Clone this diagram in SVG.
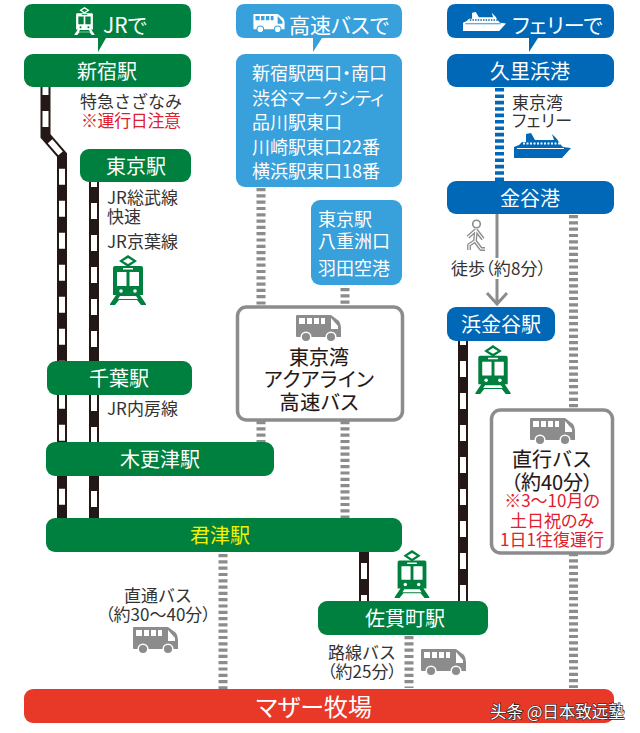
<svg xmlns="http://www.w3.org/2000/svg" width="640" height="733" viewBox="0 0 640 733">
<style>
text{font-family:"Noto Sans CJK JP","Noto Sans",sans-serif;font-feature-settings:"palt";dominant-baseline:central;fill:#333}
.w{fill:#fff}.c{text-anchor:middle}.s21{font-size:21px}.s20{font-size:20px}.s18{font-size:18px}.s17{font-size:17px}
.np{font-feature-settings:normal}
.dk{fill:#231815;stroke:#231815;stroke-width:.12px}
.r{fill:#e0202f}.y{fill:#f2f200}
.g{fill:#00803e}.lb{fill:#38a0db}.db{fill:#0068b7}.red{fill:#e83828}
.box{fill:#fff;stroke:#8c8c8c;stroke-width:3.5}
.rb{fill:none;stroke:#231815;stroke-width:10}
.rw{fill:none;stroke:#fff;stroke-width:6;stroke-dasharray:16 16}
.gd{fill:none;stroke:#8c8c8c;stroke-width:9;stroke-dasharray:3.2 3.1}
.bd{fill:none;stroke:#0068b7;stroke-width:9;stroke-dasharray:3.6 2.8}
.wk{fill:none;stroke:#8c8c8c;stroke-width:3}
</style>
<defs>
<symbol id="train" viewBox="0 0 36 50" overflow="visible">
<path fill-rule="evenodd" d="M18 0L27 6L18 12L9 6ZM18 3L13 6L18 9L23 6Z"/>
<path d="M5 11H31Q33 11 33 13V40H30L36 49V50H31L27 45H9L5 50H0V49L6 40H3V13Q3 11 5 11Z"/>
<path fill="currentColor" d="M7 17H16.500V31H7ZM19.500 17H29V31H19.500ZM13 13H23V14.500H13ZM10 41H26L28 44H8Z"/>
<circle fill="currentColor" cx="11" cy="36" r="1.800"/><circle fill="currentColor" cx="25" cy="36" r="1.800"/>
</symbol>
<symbol id="bus" viewBox="0 0 45 26" overflow="visible">
<path d="M1 0H35L43 6Q45 9 45 13V22H1Q0 22 0 21V1Q0 0 1 0Z"/>
<path fill="currentColor" d="M3 3H9V9H3ZM11 3H16V9H11ZM18 3H23V9H18ZM25 3H29V9H25ZM35 3L42 11V14H35Z"/>
<circle cx="10" cy="22" r="4.800" stroke="currentColor" stroke-width="1.500"/><circle cx="35" cy="22" r="4.800" stroke="currentColor" stroke-width="1.500"/>
</symbol>
<symbol id="ship" viewBox="0 0 57 25" overflow="visible">
<path d="M0 25V14L5 12L8 9H12V1L17 0L21 7H40L38 1L43 6L46 11L49 14L57 15L48 25Z"/>
<path fill="none" stroke="currentColor" stroke-width="2" stroke-dasharray="2 1.500" d="M9 10.500H47"/>
<path fill="none" stroke="currentColor" stroke-width="1" d="M3 15.500H50"/>
</symbol>
</defs>

<g id="connectors">
<path class="rb" d="M45.500 87V136L62 155V518"/>
<path class="rw" stroke-dashoffset="8" d="M45.500 87V136L62 155V518"/>
<path class="rb" d="M94 182V518"/><path class="rw" stroke-dashoffset="11" d="M94 182V518"/>
<path class="rb" d="M463 341V601"/><path class="rw" stroke-dashoffset="12" d="M463 341V601"/>
<path class="rb" d="M364 552V601"/><path class="rw" stroke-dashoffset="21" d="M364 552V601"/>
<path class="gd" d="M261 188V306M261 421V442"/>
<path class="gd" d="M345 288V306M345 421V518"/>
<path class="gd" d="M573.500 215V410M573.500 553V688"/>
<path class="gd" d="M223 554V689"/>
<path class="gd" d="M409 636V688"/>
<path class="bd" d="M499.500 88V181"/>
<path class="wk" d="M497 214V258M497 279V304M487 293L497 304L507 293"/>
</g>

<g id="jr-header"><path class="g" d="M33 4H182Q191 4 191 13V29Q191 38 182 38H106L98 52V38H33Q24 38 24 29V13Q24 4 33 4Z"/>
<use href="#train" x="74" y="7" width="21" height="28" style="fill:#fff;color:#00803e"/>
<text class="w s21" x="103" y="23.500">JRで</text></g>
<g id="shinjuku"><rect class="g" x="24" y="54" width="167" height="33" rx="9"/><text class="w s20 c" x="107" y="70.500">新宿駅</text></g>
<g id="sazanami-label"><text class="s17 np" x="80" y="100">特急さざなみ</text><text class="s17 r" x="81" y="119.500" textLength="100">※運行日注意</text></g>
<g id="tokyo"><rect class="g" x="80" y="149" width="111" height="33" rx="9"/><text class="w s20 c" x="136" y="165.500">東京駅</text></g>
<g id="sobu-label"><text class="s17" x="107" y="196.500">JR総武線</text><text class="s17" x="107" y="215.500">快速</text><text class="s17" x="107" y="240.500">JR京葉線</text>
<use href="#train" x="110" y="255" width="36" height="50" style="fill:#00803e;color:#fff"/></g>
<g id="chiba"><rect class="g" x="47" y="361" width="145" height="34" rx="9"/><text class="w s20 c" x="119" y="377">千葉駅</text></g>
<text class="s17" x="107" y="407.500">JR内房線</text>
<g id="kisarazu"><rect class="g" x="46" y="442" width="228" height="34" rx="9"/><text class="w s20 c" x="160" y="458.500">木更津駅</text></g>
<g id="kimitsu"><rect class="g" x="46" y="518" width="356" height="34" rx="9"/><text class="y s20 c" x="220" y="534.500">君津駅</text></g>
<g id="sanukimachi"><rect class="g" x="318" y="601" width="170" height="34" rx="9"/><text class="w s20 c" x="405" y="617.500">佐貫町駅</text></g>
<use id="train-sanuki" href="#train" x="394" y="550" width="36" height="48" style="fill:#00803e;color:#fff"/>

<g id="bus-header"><path class="lb" d="M245 4H393Q402 4 402 13V29Q402 38 393 38H322L313 52V38H245Q236 38 236 29V13Q236 4 245 4Z"/>
<use href="#bus" x="253" y="14" width="32" height="18" style="fill:#fff;color:#38a0db"/>
<text class="w s21" x="289" y="23.500">高速バスで</text></g>
<g id="bus-stops-1"><rect class="lb" x="236" y="54" width="166" height="133" rx="9"/>
<text class="w s18" x="252" y="71.500">新宿駅西口・南口</text><text class="w s18" x="252" y="96.500">渋谷マークシティ</text><text class="w s18" x="252" y="120.500">品川駅東口</text><text class="w s18" x="252" y="145.500">川崎駅東口22番</text><text class="w s18" x="252" y="169.500">横浜駅東口18番</text></g>
<g id="bus-stops-2"><rect class="lb" x="311" y="200" width="91" height="85" rx="9"/>
<text class="w s18" x="318" y="218">東京駅</text><text class="w s18" x="318" y="240">八重洲口</text><text class="w s18" x="318" y="267">羽田空港</text></g>
<g id="aqualine"><rect class="box" x="237.500" y="307" width="165" height="113" rx="9"/>
<use href="#bus" x="296" y="315" width="45" height="26" style="fill:#8c8c8c;color:#fff"/>
<text class="s20 c dk" x="319" y="356.500">東京湾</text><text class="s20 c dk" x="319" y="378.500" textLength="110">アクアライン</text><text class="s20 c dk" x="319" y="401.500" textLength="79">高速バス</text></g>

<g id="ferry-header"><path class="db" d="M456 4H605Q614 4 614 13V29Q614 38 605 38H538L529 52V38H456Q447 38 447 29V13Q447 4 456 4Z"/>
<use href="#ship" x="463" y="12" width="43" height="19" style="fill:#fff;color:#0068b7"/>
<text class="w s21" x="512" y="23.500">フェリーで</text></g>
<g id="kurihama"><rect class="db" x="447" y="54" width="167" height="33" rx="9"/><text class="w s20 c" x="530" y="70.500">久里浜港</text></g>
<g id="ferry-label"><text class="s17" x="512" y="101.500">東京湾</text><text class="s17" x="512" y="119.500" textLength="60">フェリー</text>
<use href="#ship" x="514" y="133" width="57" height="25" style="fill:#0068b7;color:#fff"/></g>
<g id="kanaya"><rect class="db" x="447" y="181" width="167" height="33" rx="9"/><text class="w s20 c" x="530" y="197.500">金谷港</text></g>
<g id="walker"><circle cx="476.500" cy="224" r="3.800" fill="#fff" stroke="#8c8c8c" stroke-width="1.600"/>
<path fill="none" stroke="#8c8c8c" stroke-width="3.800" stroke-linejoin="round" d="M476 230L468 237M476 230L483 239M476 230L475 241L469 245V250M475 241L481 249H485"/>
<path fill="none" stroke="#fff" stroke-width="1.200" stroke-linejoin="round" d="M476 230L468 237M476 230L483 239M476 230L475 241L469 245V250M475 241L481 249H485"/>
</g>
<text class="s17" x="451" y="267.500" textLength="95">徒歩（約8分）</text>
<g id="hamakanaya"><rect class="db" x="447" y="307" width="108" height="34" rx="9"/><text class="w s20 c" x="501" y="323.500">浜金谷駅</text></g>
<use id="train-hama" href="#train" x="475" y="345" width="36" height="49" style="fill:#00803e;color:#fff"/>
<g id="direct-bus"><rect class="box" x="491.500" y="410" width="121" height="143" rx="9"/>
<use href="#bus" x="530" y="418" width="45" height="26" style="fill:#8c8c8c;color:#fff"/>
<text class="s20 c dk np" x="552" y="458.500">直行バス</text><text class="s20 c dk" x="552" y="481">（約40分）</text>
<text class="s17 r c" x="552" y="499.500">※3〜10月の</text><text class="s17 r c" x="552" y="519.500">土日祝のみ</text><text class="s17 r c" x="552" y="538">1日1往復運行</text></g>

<g id="through-bus"><text class="s17 c np" x="158" y="594.500">直通バス</text><text class="s17 c" x="158" y="613">（約30〜40分）</text>
<use href="#bus" x="133" y="627" width="45" height="26" style="fill:#8c8c8c;color:#fff"/></g>
<g id="route-bus"><text class="s17 c np" x="362" y="651.500">路線バス</text><text class="s17 c" x="362" y="670">（約25分）</text>
<use href="#bus" x="421" y="649" width="45" height="26" style="fill:#8c8c8c;color:#fff"/></g>
<g id="mother-farm"><rect class="red" x="24" y="689" width="590" height="34" rx="9"/><text class="w c" style="font-size:24px" x="314" y="705.500">マザー牧場</text></g>
<text x="490" y="710.500" style="font-family:'Noto Sans CJK SC','Noto Sans',sans-serif;font-size:16.500px;fill:#fff;paint-order:stroke;stroke:#222;stroke-width:1.200px">头条 @日本致远塾</text>
</svg>
